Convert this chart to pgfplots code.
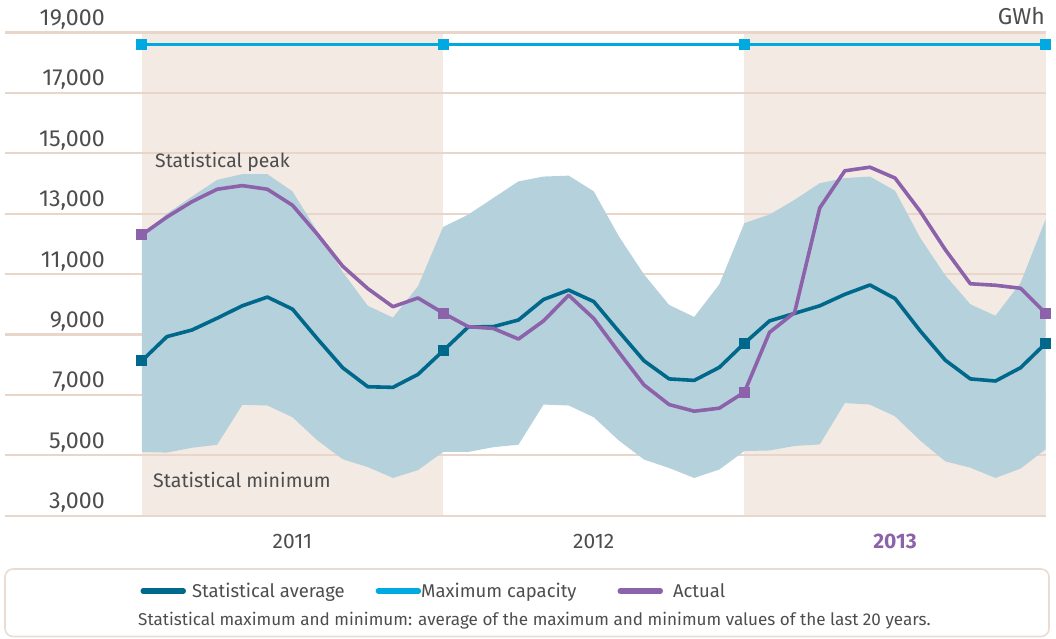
\documentclass[border=0pt]{standalone}
\usepackage{fontspec}
\setmainfont{Fira Sans}
\usepackage{pgfplots}
\pgfplotsset{compat=1.18}
\usepgfplotslibrary{fillbetween}
\usepackage{pgfplotstable}

\definecolor{avgcol}{RGB}{0,104,139}
\definecolor{capcol}{RGB}{0,169,224}
\definecolor{actcol}{RGB}{140,98,170}
\definecolor{bandcol}{RGB}{181,209,219}
\definecolor{shadecol}{RGB}{243,234,228}
\definecolor{gridcol}{RGB}{232,214,202}
\definecolor{txt}{RGB}{77,77,77}
\definecolor{boxcol}{RGB}{234,220,210}

\pgfplotstableread{
m top bot avg act
0 12250 5110 8130 12300
1 13000 5090 8930 12890
2 13570 5250 9150 13400
3 14120 5350 9540 13810
4 14310 6670 9950 13930
5 14310 6650 10240 13810
6 13740 6260 9840 13280
7 12400 5490 8850 12310
8 11070 4870 7900 11260
9 9950 4610 7270 10520
10 9560 4250 7250 9920
11 10600 4510 7680 10210
12 12560 5110 8460 9710
13 12970 5110 9250 9260
14 13520 5270 9260 9200
15 14070 5350 9480 8850
16 14230 6680 10160 9450
17 14260 6650 10470 10300
18 13740 6260 10090 9530
19 12250 5490 9100 8410
20 10990 4860 8130 7330
21 9980 4580 7530 6680
22 9580 4250 7480 6460
23 10660 4530 7910 6560
24 12690 5140 8710 7090
25 12970 5160 9450 9070
26 13460 5310 9700 9730
27 14010 5360 9950 13190
28 14180 6730 10330 14420
29 14230 6680 10640 14540
30 13760 6290 10190 14180
31 12200 5490 9120 13080
32 10960 4800 8150 11810
33 10000 4590 7530 10680
34 9620 4250 7460 10630
35 10710 4560 7900 10530
36 12820 5200 8710 9700
}\data

\begin{document}
\begin{tikzpicture}
\begin{axis}[
  set layers,
  at={(5pt,122.3pt)}, anchor=south west,
  scale only axis, width=1040.7pt, height=483.2pt,
  xmin=-5.45, xmax=36, ymin=3000, ymax=19000,
  axis line style={draw=none},
  major tick length=0pt,
  ytick={3000,5000,...,19000},
  ymajorgrids,
  major grid style={color=gridcol, line width=2.2pt},
  xtick={6,18,30},
  xticklabels={2011,2012,{\bfseries\color{actcol}2013}},
  clip=false,
  scaled y ticks=false,
  /pgf/number format/assume math mode=true,
  /pgf/number format/1000 sep={,},
  yticklabel style={anchor=base east, inner sep=0pt, xshift=100pt, yshift=7pt,
    font=\fontsize{23.2}{23.2}\selectfont, text=txt},
  xticklabel style={anchor=base, inner sep=0pt, yshift=-33pt,
    font=\fontsize{21}{21}\selectfont, text=txt},
  legend columns=3,
  legend style={anchor=west, at={(axis description cs:0.1302,-0.1558)},
    draw=none, fill=none, inner sep=0pt, outer sep=0pt,
    font=\fontsize{18.5}{18.5}\selectfont, text=txt,
    /tikz/column 1/.style={column sep=4pt},
    /tikz/column 2/.style={column sep=29pt},
    /tikz/column 3/.style={column sep=-2pt},
    /tikz/column 4/.style={column sep=39pt},
    /tikz/column 5/.style={column sep=8pt}},
  legend image code/.code={\draw[#1, mark=none, line width=5.5pt, line cap=round] (0pt,0pt) -- (40pt,0pt);},
]
\addplot[on layer=axis background, fill=shadecol, draw=none, forget plot]
  coordinates {(0,3000) (12,3000) (12,19000) (0,19000)} -- cycle;
\addplot[on layer=axis background, fill=shadecol, draw=none, forget plot]
  coordinates {(24,3000) (36,3000) (36,19000) (24,19000)} -- cycle;

\addplot[draw=none, name path=top, forget plot] table[x=m, y=top]{\data};
\addplot[draw=none, name path=bot, forget plot] table[x=m, y=bot]{\data};
\addplot[bandcol, forget plot] fill between[of=top and bot];

\addplot[capcol, line width=3pt, mark=square*, mark size=5pt,
  mark options={fill=capcol, draw=capcol, line width=0pt, rounded corners=1.5pt}, forget plot]
  coordinates {(0,18600) (12,18600) (24,18600) (36,18600)};

\addplot[avgcol, line width=3.6pt, line join=round, mark=square*, mark size=5pt,
  mark repeat=12, mark options={fill=avgcol, draw=avgcol, line width=0pt}, forget plot]
  table[x=m, y=avg]{\data};

\addplot[actcol, line width=3.6pt, line join=round, mark=square*, mark size=5pt,
  mark repeat=12, mark options={fill=actcol, draw=actcol, line width=0pt}, forget plot]
  table[x=m, y=act]{\data};

\addlegendimage{avgcol}
\addlegendentry{Statistical average}
\addlegendimage{capcol}
\addlegendentry{Maximum capacity}
\addlegendimage{actcol}
\addlegendentry{Actual}
\end{axis}

\node[anchor=base east, inner sep=0pt, text=txt, font=\fontsize{23}{23}\selectfont] at (1045pt,613pt) {GWh};
\node[anchor=base west, inner sep=0pt, text=txt, font=\fontsize{19.4}{19.4}\selectfont] at (155pt,470pt) {Statistical peak};
\node[anchor=base west, inner sep=0pt, text=txt, font=\fontsize{19.6}{19.6}\selectfont] at (153pt,151pt) {Statistical minimum};
\draw[boxcol, line width=1.6pt, rounded corners=8pt] (5pt,1.5pt) rectangle (1049pt,69pt);
\node[anchor=base west, inner sep=0pt, text=txt, font=\fontsize{17.1}{17.1}\selectfont] at (138pt,13pt)
  {Statistical maximum and minimum: average of the maximum and minimum values of the last 20 years.};
\pgfresetboundingbox
\path[use as bounding box] (0pt,0pt) rectangle (1056pt,638pt);
\end{tikzpicture}
\end{document}
